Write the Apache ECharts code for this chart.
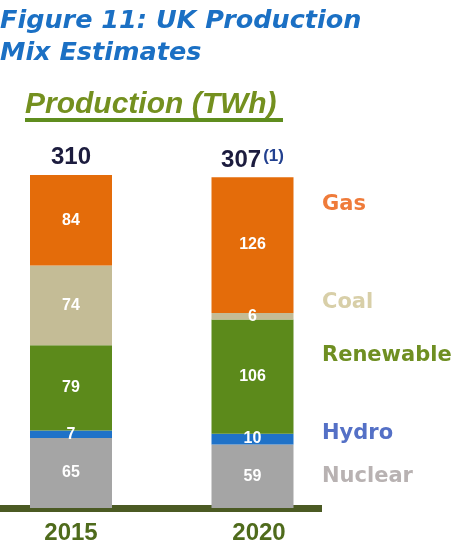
<!DOCTYPE html>
<html>
<head>
<meta charset="utf-8">
<script src="https://cdn.jsdelivr.net/npm/echarts@6/dist/echarts.min.js"></script>
<style>
  html, body { margin: 0; padding: 0; background: #fff; }
  #chart-panel { width: 454px; height: 553px; }
</style>
</head>
<body>
<div id="chart-panel"></div>
<script>
// data (TWh)
var years = ['2015', '2020'];
var sources = ['Nuclear', 'Hydro', 'Renewable', 'Coal', 'Gas'];
var nuclear = [65, 59];
var hydro = [7, 10];
var renewable = [79, 106];
var coal = [74, 6];
var gas = [84, 126];
var totals = [310, 307];
var totalNotes = ['', '(1)'];

var barColors = ['#a5a5a5', '#1f72c8', '#5c8a1b', '#c4bc96', '#e46c0a'];
var legendColors = ['#b8b2b2', '#5470c6', '#6f8f22', '#d8cfa8', '#ef7b3a'];
var legendY = [477, 434, 356, 303, 205];

var chart = echarts.init(document.getElementById('chart-panel'));

function segment(name, values, i) {
  return {
    name: name,
    type: 'bar',
    stack: 'mix',
    barWidth: 82,
    clip: false,
    data: values,
    itemStyle: { color: barColors[i] },
    label: {
      show: true,
      position: 'inside',
      color: '#fff',
      fontFamily: 'Liberation Sans, Arial',
      fontSize: 16,
      fontWeight: 'bold'
    }
  };
}

var series = [
  segment('Nuclear', nuclear, 0),
  segment('Hydro', hydro, 1),
  segment('Renewable', renewable, 2),
  segment('Coal', coal, 3),
  segment('Gas', gas, 4),
  {
    name: 'Total',
    type: 'bar',
    barWidth: 82,
    barGap: '-100%',
    clip: false,
    silent: true,
    data: totals,
    itemStyle: { color: 'rgba(0,0,0,0)' },
    label: {
      show: true,
      position: 'top',
      distance: 5,
      formatter: function (p) {
        var note = totalNotes[p.dataIndex];
        return '{t|' + p.value + '}' + (note ? '{s|' + note + '}' : '');
      },
      rich: {
        t: { fontFamily: 'Liberation Sans, Arial', fontSize: 24, fontWeight: 'bold', color: '#1c1c3e' },
        s: { fontFamily: 'Liberation Sans, Arial', fontSize: 17, fontWeight: 'bold', color: '#22408f', verticalAlign: 'top', padding: [0, 0, 0, 2] }
      }
    }
  }
];

var graphic = [
  {
    type: 'text', left: 25, top: 90,
    style: {
      text: 'Production (TWh)',
      fill: '#74901f',
      font: 'italic bold 30px "Liberation Sans", Arial'
    }
  },
  { type: 'rect', shape: { x: 25, y: 118, width: 258, height: 4 }, style: { fill: '#5f8d1e' } }
];
sources.forEach(function (s, i) {
  graphic.push({
    type: 'text', x: 322, y: legendY[i],
    style: {
      text: s,
      fill: legendColors[i],
      font: 'bold 21px "DejaVu Sans"',
      verticalAlign: 'middle'
    }
  });
});

chart.setOption({
  animation: false,
  title: {
    text: 'Figure 11: UK Production\nMix Estimates',
    left: 0,
    top: 5,
    padding: 0,
    textStyle: {
      fontFamily: 'DejaVu Sans',
      fontStyle: 'italic',
      fontWeight: 'bold',
      fontSize: 25.5,
      lineHeight: 32,
      color: '#1b70c4'
    }
  },
  grid: [
    // bar centres sit on the grid edges (boundaryGap false)
    { left: 71, right: 201.5, top: 77, bottom: 45 },
    // baseline only
    { left: 0, right: 132, top: 77, bottom: 45 }
  ],
  xAxis: [
    {
      type: 'category',
      data: years,
      gridIndex: 0,
      boundaryGap: false,
      axisLine: { show: false },
      axisTick: { show: false },
      axisLabel: {
        margin: 13,
        fontFamily: 'Liberation Sans, Arial',
        fontSize: 24,
        fontWeight: 'bold',
        color: '#4f6b1c',
        formatter: function (v, i) { return i === 1 ? '{r|' + v + '}' : v; },
        rich: {
          r: { fontFamily: 'Liberation Sans, Arial', fontSize: 24, fontWeight: 'bold', color: '#4f6b1c', padding: [0, 0, 0, 13] }
        }
      }
    },
    {
      type: 'value',
      gridIndex: 1,
      min: 0,
      max: 1,
      axisLine: { show: true, lineStyle: { color: '#4b5a23', width: 7, cap: 'butt' } },
      axisTick: { show: false },
      axisLabel: { show: false },
      splitLine: { show: false }
    }
  ],
  yAxis: [
    { type: 'value', gridIndex: 0, min: 0, max: 400, show: false },
    { type: 'value', gridIndex: 1, min: 0, max: 1, show: false }
  ],
  graphic: graphic,
  series: series
});
</script>
</body>
</html>
